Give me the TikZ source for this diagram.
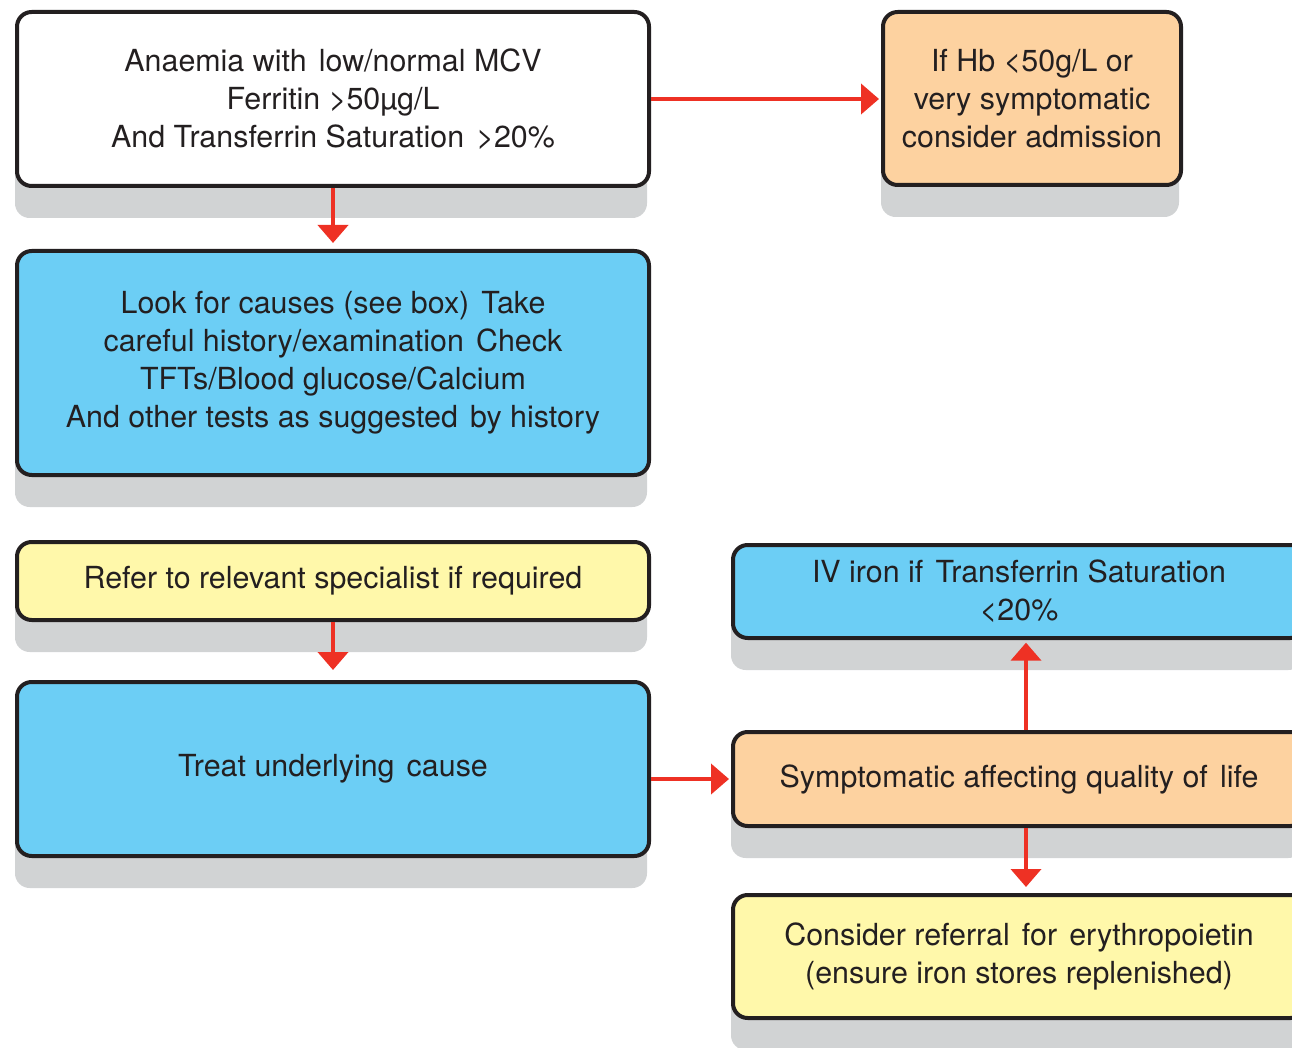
\documentclass[tikz,border=0pt]{standalone}
\usepackage{fontspec}
\setmainfont{TeX Gyre Heros}
\usetikzlibrary{arrows.meta,shadows,calc}
\definecolor{boxblue}{RGB}{108,206,245}
\definecolor{boxorange}{RGB}{253,210,160}
\definecolor{boxyellow}{RGB}{255,248,170}
\definecolor{shadowgray}{RGB}{209,211,212}
\definecolor{flowred}{RGB}{238,49,36}
\definecolor{outline}{RGB}{35,31,32}
% a wider word space, as set in the flow chart's labels
\newcommand{\wgap}{\hspace{0.4em}}
\begin{document}
\begin{tikzpicture}[x=0.75pt,y=-0.75pt,
  box/.style={draw=outline, line width=3pt, rounded corners=11pt, align=center,
    inner sep=0pt, text=outline, font=\fontsize{22.8}{28.5}\selectfont,
    drop shadow={shadow xshift=-1.5pt, shadow yshift=-24pt, fill=shadowgray, opacity=1}},
  flow/.style={draw=flowred, line width=3pt, -{Triangle[width=22.5pt,length=13.5pt]}},
]
\useasboundingbox (0,0) rectangle (1292,1048);
\clip (0,0) rectangle (1292,1048);

% left column
\node[box, fill=white, minimum width=474pt, minimum height=130.5pt] (b1) at (333,99)
  {Anaemia with\wgap low/normal MCV\\Ferritin >50µg/L\\And Transferrin Saturation\wgap >20\%};
\node[box, fill=boxblue, minimum width=474pt, minimum height=168pt] (b3) at (333,363)
  {Look for causes (see box)\wgap Take\\careful history/examination\wgap Check\\TFTs/Blood glucose/Calcium\\And other tests as suggested\wgap by history};
\node[box, fill=boxyellow, minimum width=474pt, minimum height=58.5pt] (b4) at (333,581)
  {Refer to relevant specialist if required};
\node[box, fill=boxblue, minimum width=474pt, minimum height=130.5pt] (b5) at (333,769)
  {Treat underlying\wgap cause};

% right column
\node[box, fill=boxorange, minimum width=223.5pt, minimum height=129.75pt] (b2) at (1032,98.5)
  {If Hb <50g/L or\\very symptomatic\\consider admission};
\node[box, fill=boxblue, minimum width=429pt, minimum height=69.75pt] (b6) at (1019,591.5)
  {IV iron if\wgap Transferrin Saturation\\<20\%};
\node[box, fill=boxorange, minimum width=429pt, minimum height=70.5pt] (b7) at (1019,779)
  {Symptomatic affecting quality of\wgap life};
\node[box, fill=boxyellow, minimum width=429pt, minimum height=92.25pt] (b8) at (1019,956.5)
  {Consider referral\wgap for\wgap erythropoietin\\(ensure iron stores replenished)};

% connectors
\coordinate (up) at ($(b7.north)+(7,0)$);
\coordinate (down) at ($(b7.south)+(7,0)$);
\draw[flow, shorten >=4.5pt] (b1.south) -- (b3.north);
\draw[flow, shorten >=1.5pt] (b1.east) -- (b1.east -| b2.west);
\draw[flow, shorten >=7.5pt] (b4.south) -- (b5.north);
\draw[flow, shorten >=1.5pt] (b5.east |- b7.west) -- (b7.west);
\draw[flow, shorten >=2pt] (up) -- (up |- b6.south);
\draw[flow, shorten >=4.5pt] (down) -- (down |- b8.north);
\end{tikzpicture}
\end{document}
